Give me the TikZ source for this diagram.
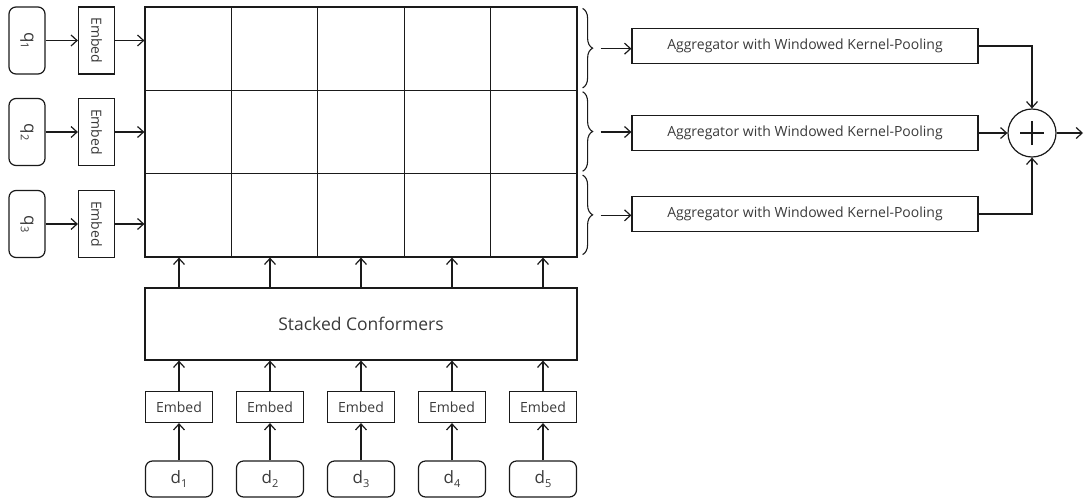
\documentclass[tikz,border=0pt]{standalone}
\usepackage{fontspec}
\setmainfont{Open Sans}
\usepackage{xcolor}
\usepackage{tikz}
\usetikzlibrary{arrows.meta,decorations.pathreplacing}
\definecolor{ink}{HTML}{1A1A1A}
\definecolor{txt}{HTML}{3A3A3A}
\tikzset{
  box/.style={draw=ink, line width=1.2pt, text=txt, inner sep=0pt},
  qbox/.style={box, rounded corners=7pt, minimum width=67pt, minimum height=36pt, font=\fontsize{17}{17}\selectfont},
  embv/.style={box, minimum width=67pt, minimum height=36pt, font=\fontsize{14}{14}\selectfont},
  embh/.style={box, minimum width=67pt, minimum height=31pt, font=\fontsize{14}{14}\selectfont},
  dbox/.style={box, rounded corners=7pt, minimum width=67pt, minimum height=36pt, font=\fontsize{17}{17}\selectfont},
  cell/.style={box, minimum width=86.4pt, minimum height=83.33pt},
  conf/.style={box, minimum width=432pt, minimum height=72pt, font=\fontsize{17.5}{17.5}\selectfont},
  agg/.style={box, minimum width=346pt, minimum height=35pt, font=\fontsize{14}{14}\selectfont},
  plusc/.style={box, circle, minimum size=48pt,
    path picture={\draw[line width=1.8pt] (path picture bounding box.center) ++(-12pt,0) -- ++(24pt,0)
      (path picture bounding box.center) ++(0,-12pt) -- ++(0,24pt);}},
  arr/.style={draw=ink, line width=1.2pt, -{Straight Barb[length=6pt,width=11pt]}},
  brc/.style={draw=ink, line width=1.1pt, decorate, decoration={brace, amplitude=10pt}}
}
\newcommand{\lblsub}[2]{#1\raisebox{-0.4ex}{\fontsize{11}{11}\selectfont #2}}

\begin{document}
\begin{tikzpicture}[x=1pt, y=-1pt]
  \useasboundingbox (0,0) rectangle (1085,499);

  % query side
  \foreach \r/\y in {1/40.5,2/132,3/224} {
    \node[qbox, rotate=-90] (q\r) at (27,\y) {\lblsub{q}{\r}};
    \node[embv, rotate=-90] (qe\r) at (96.5,\y) {Embed};
    \draw[arr] (q\r) -- (qe\r);
  }

  % interaction grid
  \foreach \r in {1,2,3}
    \foreach \c in {1,...,5}
      \node[cell] (cell-\r-\c) at ({145+86.4*(\c-0.5)},{7+83.33*(\r-0.5)}) {};
  \foreach \r in {1,2,3}
    \draw[arr] (qe\r) -- (qe\r -| cell-\r-1.west);

  % document side
  \node[conf] (conf) at (361,324) {Stacked Conformers};
  \foreach \i in {1,...,5} {
    \node[embh] (de\i) at ({179+91*(\i-1)},407) {Embed};
    \node[dbox] (d\i) at ({179+91*(\i-1)},479) {\lblsub{d}{\i}};
    \draw[arr] (d\i) -- (de\i);
    \draw[arr] (de\i) -- (de\i |- conf.south);
    \draw[arr] (de\i |- conf.north) -- (de\i |- cell-3-1.south);
  }

  % aggregation
  \foreach \r/\y in {1/46,2/133,3/214} {
    \draw[brc] ([xshift=5pt,yshift=-2pt]cell-\r-5.north east) -- ([xshift=5pt,yshift=3pt]cell-\r-5.south east);
    \coordinate (b\r) at ([xshift=23pt]cell-\r-5.east);
    \node[agg] (agg\r) at (805,\y) {Aggregator with Windowed Kernel-Pooling};
  }
  \foreach \r in {1,2,3}
    \draw[arr] (b\r) -- (b\r -| agg\r.west);

  \node[plusc] (plus) at (1032,133) {};
  \coordinate (out) at (1083,133);
  \draw[arr] (agg1.east) -| (plus.north);
  \draw[arr] (agg2) -- (plus);
  \draw[arr] (agg3.east) -| (plus.south);
  \draw[arr] (plus) -- (out);
\end{tikzpicture}
\end{document}
